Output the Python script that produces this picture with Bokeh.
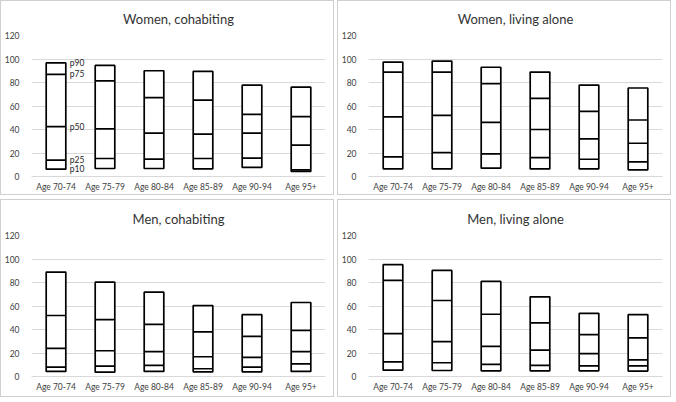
from bokeh.plotting import figure
from bokeh.layouts import gridplot
from bokeh.models import ColumnDataSource, FactorRange, Range1d, SingleIntervalTicker
from bokeh.transform import dodge
from bokeh.core.properties import value
from bokeh.embed import file_html
from bokeh.resources import INLINE

categories = ["Age 70-74", "Age 75-79", "Age 80-84", "Age 85-89", "Age 90-94", "Age 95+"]
percentile_labels = ["p10", "p25", "p50", "p75", "p90"]

women_cohab_p10 = [6.2, 6.8, 6.8, 6.5, 7.7, 4.3]
women_cohab_p25 = [14.0, 15.3, 14.8, 15.3, 15.6, 5.7]
women_cohab_p50 = [42.5, 40.6, 36.9, 36.0, 36.9, 26.7]
women_cohab_p75 = [87.0, 81.4, 67.2, 65.0, 52.8, 51.0]
women_cohab_p90 = [96.7, 94.5, 90.0, 89.4, 77.7, 76.0]

women_alone_p10 = [6.5, 6.5, 7.1, 6.5, 6.5, 5.7]
women_alone_p25 = [16.7, 20.4, 19.2, 16.1, 14.7, 12.5]
women_alone_p50 = [50.7, 52.0, 46.1, 40.0, 32.0, 28.3]
women_alone_p75 = [88.9, 88.9, 79.0, 66.5, 55.5, 48.1]
women_alone_p90 = [97.4, 98.2, 93.0, 88.9, 77.8, 75.3]

men_cohab_p10 = [4.3, 3.7, 4.3, 4.0, 4.0, 4.3]
men_cohab_p25 = [8.0, 8.8, 9.4, 6.6, 8.0, 10.8]
men_cohab_p50 = [23.9, 21.9, 21.1, 16.8, 16.2, 21.1]
men_cohab_p75 = [51.9, 48.4, 44.4, 37.9, 34.2, 39.3]
men_cohab_p90 = [88.9, 80.3, 71.8, 60.4, 52.7, 63.0]

men_alone_p10 = [5.4, 5.1, 4.8, 4.8, 4.8, 4.6]
men_alone_p25 = [12.5, 11.7, 10.3, 9.4, 9.1, 9.1]
men_alone_p50 = [36.5, 29.6, 25.6, 22.5, 19.4, 14.2]
men_alone_p75 = [81.8, 64.7, 53.0, 45.6, 35.6, 32.8]
men_alone_p90 = [95.2, 90.3, 80.9, 67.8, 53.8, 52.7]

panels = [
    ("Women, cohabiting", [women_cohab_p10, women_cohab_p25, women_cohab_p50, women_cohab_p75, women_cohab_p90], True, 0),
    ("Women, living alone", [women_alone_p10, women_alone_p25, women_alone_p50, women_alone_p75, women_alone_p90], False, 0),
    ("Men, cohabiting", [men_cohab_p10, men_cohab_p25, men_cohab_p50, men_cohab_p75, men_cohab_p90], False, 1),
    ("Men, living alone", [men_alone_p10, men_alone_p25, men_alone_p50, men_alone_p75, men_alone_p90], False, 1),
]

FONT = "Lato"
GRID = "#d9d9d9"
TXT = "#404040"
BAR_W = 0.4
LW = 1.7


def make_panel(title, pcts, annotate, row):
    if row == 0:
        h, top, bottom = 195, 34, 20
    else:
        h, top, bottom = 198, 35, 22
    p = figure(x_range=FactorRange(*categories), y_range=Range1d(0, 120),
               width=334, height=h, output_backend="svg", toolbar_location=None,
               min_border_left=27, min_border_right=10, min_border_top=top, min_border_bottom=bottom)
    p.styles = {"border": "1px solid #d0d0d0"}
    p.title.text = title
    p.title.align = "center"
    p.title.vertical_align = "middle"
    p.title.text_font = FONT
    p.title.text_font_size = "13px"
    p.title.text_font_style = "normal"
    p.title.text_color = "#333333"
    p.title.standoff = 16
    p.outline_line_color = None
    p.background_fill_color = "white"
    p.border_fill_color = "white"

    p10, p25, p50, p75, p90 = pcts
    src = ColumnDataSource(dict(cat=categories, p10=p10, p25=p25, p50=p50, p75=p75, p90=p90))
    p.vbar(x="cat", bottom="p10", top="p90", width=BAR_W, source=src,
           fill_color="white", line_color="black", line_width=LW)
    for col in ["p25", "p50", "p75"]:
        p.segment(x0=dodge("cat", -BAR_W / 2, range=p.x_range), y0=col,
                  x1=dodge("cat", BAR_W / 2, range=p.x_range), y1=col,
                  source=src, line_color="black", line_width=LW)

    if annotate:
        lsrc = ColumnDataSource(dict(cat=[categories[0]] * 5,
                                     y=[p10[0], p25[0], p50[0], p75[0], p90[0]],
                                     t=percentile_labels))
        p.text(x=dodge("cat", BAR_W / 2, range=p.x_range), y="y", text="t", source=lsrc,
               x_offset=4, text_baseline="middle", text_align="left",
               text_font=value(FONT), text_font_size="8.5px", text_color="#262626")

    p.yaxis.ticker = SingleIntervalTicker(interval=20)
    p.yaxis.axis_line_color = None
    p.yaxis.major_tick_line_color = None
    p.yaxis.minor_tick_line_color = None
    p.yaxis.major_tick_out = 0
    p.yaxis.major_tick_in = 0
    p.yaxis.major_label_standoff = 8
    p.yaxis.major_label_text_font = FONT
    p.yaxis.major_label_text_font_size = "8.5px"
    p.yaxis.major_label_text_color = TXT

    p.xaxis.axis_line_color = GRID
    p.xaxis.major_tick_line_color = None
    p.xaxis.minor_tick_line_color = None
    p.xaxis.major_tick_out = 0
    p.xaxis.major_tick_in = 0
    p.xaxis.major_label_standoff = 5
    p.xaxis.major_label_text_font = FONT
    p.xaxis.major_label_text_font_size = "8.5px"
    p.xaxis.major_label_text_color = TXT

    p.xgrid.grid_line_color = None
    p.ygrid.grid_line_color = GRID
    p.ygrid.grid_line_width = 1
    return p


figs = [make_panel(*args) for args in panels]
g = gridplot([[figs[0], figs[1]], [figs[2], figs[3]]], toolbar_location=None)
g.spacing = (4, 3)

open("out.html", "w").write(file_html(g, INLINE))
